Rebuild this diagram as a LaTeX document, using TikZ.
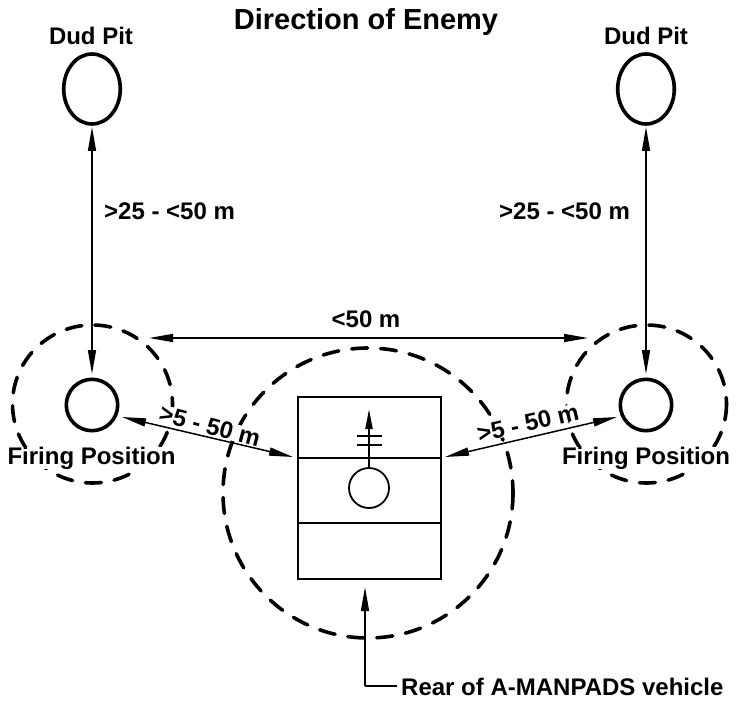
\documentclass[tikz,border=0pt]{standalone}
\usepackage{fontspec}
\setmainfont{Liberation Sans}
\usetikzlibrary{arrows.meta}
\begin{document}
\begin{tikzpicture}[x=1pt,y=-1pt,
  lbl/.style={inner sep=0pt,anchor=base,font=\fontsize{24}{26}\selectfont\bfseries},
  mask/.style={lbl,fill=white},
  dashring/.style={draw,line width=3.6pt,line cap=round,dash pattern=on 16pt off 13pt},
  pit/.style={line width=3.6pt},
  arr/.style={line width=1.5pt,{Stealth[length=24pt,width=8pt,inset=0pt]}-{Stealth[length=24pt,width=8pt,inset=0pt]}},
  one/.style={line width=1.5pt,-{Stealth[length=24pt,width=8pt,inset=0pt]}},
  thin/.style={line width=2pt}]
\useasboundingbox (0,0) rectangle (736,703);
\coordinate (dl) at (92,89);
\coordinate (dr) at (646,89);
\coordinate (fl) at (92,405);
\coordinate (fr) at (646,405);
\coordinate (c1) at (92,127);
\coordinate (c2) at (92,374);
\coordinate (c3) at (646,127);
\coordinate (c4) at (646,374);
\draw[dashring] (92.5,404) ellipse (80 and 79);
\draw[dashring] (646.5,404) ellipse (80 and 79);
\draw[dashring] (368,493) circle (145);
\node[lbl] (t) at (366,30) {\fontsize{29}{31}\selectfont Direction of Enemy};
\node[lbl] (a) at (91,44.5) {Dud Pit};
\node[lbl] (b) at (646,44.5) {Dud Pit};
\node[lbl,anchor=base west] (c) at (104,220) {>25 - <50 m};
\node[lbl,anchor=base west] (d) at (499,220) {>25 - <50 m};
\node[lbl] (e) at (366,327) {<50 m};
\node[mask] (f) at (91.5,464) {Firing Position};
\node[mask] (g) at (646,464) {Firing Position};
\node[mask,anchor=center,rotate=-15] (h) at (210,426) {>5 - 50 m};
\node[mask,anchor=center,rotate=13] (i) at (528,423) {>5 - 50 m};
\node[lbl,anchor=base west] (j) at (401,695) {Rear of A-MANPADS vehicle};
\draw[pit] (dl) ellipse (28.3 and 35);
\draw[pit] (dr) ellipse (28.3 and 35);
\draw[pit] (fl) circle (25.7);
\draw[pit] (fr) circle (25.7);
\draw[arr] (c1) -- (c2);
\draw[arr] (c3) -- (c4);
\draw[arr] (149,338) -- (588,338);
\draw[arr] (122,417) -- (293,457);
\draw[arr] (617,417) -- (445,457);
\draw[thin] (298,397) rectangle (441,579);
\draw[thin] (298,458) -- (441,458);
\draw[thin] (298,523) -- (441,523);
\draw[line width=1.8pt] (369,488) circle (20);
\draw[line width=2pt,-{Stealth[length=20pt,width=7pt,inset=0pt]}] (369,468) -- (369,409);
\draw[line width=1.8pt] (357,436) -- (382,436);
\draw[line width=1.8pt] (357,445) -- (382,445);
\draw[one] (365,686) -- (365,587);
\draw[line width=1.5pt] (365,686) -- (397,686);
\end{tikzpicture}
\end{document}
